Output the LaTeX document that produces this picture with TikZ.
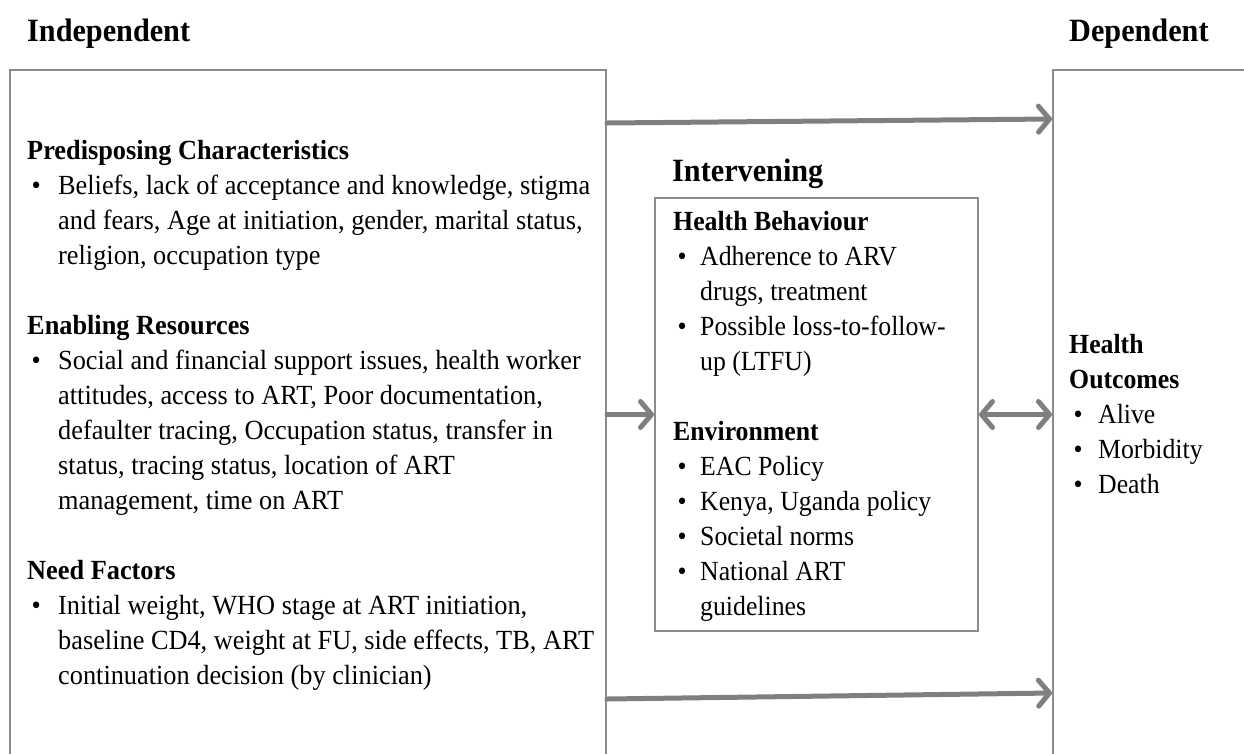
\documentclass[tikz,border=0pt]{standalone}
\usepackage{fontspec}
\setmainfont{Liberation Serif}[FakeStretch=0.93]
\newfontfamily\widefamily{Liberation Serif}[FakeStretch=0.95]
\usetikzlibrary{arrows.meta}
\definecolor{framegray}{HTML}{8C8C8C}
\definecolor{arrowgray}{HTML}{7F7F7F}
\newcommand\bodyfont{\fontsize{27.7}{35}\selectfont}
\newcommand\widebodyfont{\widefamily\fontsize{27.7}{35}\selectfont}
\newcommand\titlefont{\fontsize{32.5}{38}\selectfont\bfseries}
% fixed height for the first line of every text block
\newcommand\firstline{\vrule height 24pt depth 0pt width 0pt}
% bullet in a hanging-indent box of the given width
\newcommand\itm[1]{\makebox[#1][l]{\hspace{4.5pt}\textbullet}}
\begin{document}
\begin{tikzpicture}[x=1pt,y=-1pt,
  frame/.style={draw=framegray, line width=2pt, rectangle, inner sep=0pt, anchor=north west},
  block/.style={anchor=north west, inner sep=0pt, align=left, font=\bodyfont},
  wideblock/.style={block, font=\widebodyfont},
  heading/.style={anchor=base west, inner sep=0pt, font=\titlefont},
  arr/.style={draw=arrowgray, line width=5pt, line cap=round, -{Straight Barb[length=11pt, width=26pt, round]}},
  darr/.style={draw=arrowgray, line width=5pt, line cap=round, {Straight Barb[length=11pt, width=26pt, round]}-{Straight Barb[length=11pt, width=26pt, round]}}]
\useasboundingbox (0,0) rectangle (1244,753);
\clip (0,0) rectangle (1244,753);

% column headings
\node[heading] (tindep) at (27,41) {Independent};
\node[heading] (tdep) at (1069,41) {Dependent};
\node[heading] (tinter) at (672,181) {Intervening};

% frames (left and right run past the lower / right edge)
\node[frame, minimum width=596pt, minimum height=720pt] (indep) at (9,69) {};
\node[frame, minimum width=250pt, minimum height=720pt] (dep) at (1052,69) {};
\node[frame, minimum width=323pt, minimum height=433pt] (inter) at (654,197) {};

% independent variables
\node[wideblock] (pre) at (27,135) {\firstline\textbf{Predisposing Characteristics}\\
\itm{31pt}Beliefs, lack of acceptance and knowledge, stigma\\
\hspace*{31pt}and fears, Age at initiation, gender, marital status,\\
\hspace*{31pt}religion, occupation type};

\node[wideblock] (enab) at (27,310) {\firstline\textbf{Enabling Resources}\\
\itm{31pt}Social and financial support issues, health worker\\
\hspace*{31pt}attitudes, access to ART, Poor documentation,\\
\hspace*{31pt}defaulter tracing, Occupation status, transfer in\\
\hspace*{31pt}status, tracing status, location of ART\\
\hspace*{31pt}management, time on ART};

\node[wideblock] (need) at (27,555) {\firstline\textbf{Need Factors}\\
\itm{31pt}Initial weight, WHO stage at ART initiation,\\
\hspace*{31pt}baseline CD4, weight at FU, side effects, TB, ART\\
\hspace*{31pt}continuation decision (by clinician)};

% intervening variables
\node[block] (hb) at (673,206) {\firstline\textbf{Health Behaviour}\\
\itm{27pt}Adherence to ARV\\
\hspace*{27pt}drugs, treatment\\
\itm{27pt}Possible loss-to-follow-\\
\hspace*{27pt}up (LTFU)};

\node[block] (env) at (673,416) {\firstline\textbf{Environment}\\
\itm{27pt}EAC Policy\\
\itm{27pt}Kenya, Uganda policy\\
\itm{27pt}Societal norms\\
\itm{27pt}National ART\\
\hspace*{27pt}guidelines};

% dependent variable
\node[block] (out) at (1069,329) {\firstline\textbf{Health}\\
\textbf{Outcomes}\\
\itm{29pt}Alive\\
\itm{29pt}Morbidity\\
\itm{29pt}Death};

% connectors
\draw[arr] ([yshift=-54pt]indep.north east) -- ([yshift=-50pt]dep.north west);
\draw[arr] (indep.east |- inter.west) -- (inter.west);
\draw[darr] (inter.east) -- (inter.east -| dep.west);
\draw[arr] ([yshift=-630pt]indep.north east) -- ([yshift=-624pt]dep.north west);
\end{tikzpicture}
\end{document}
